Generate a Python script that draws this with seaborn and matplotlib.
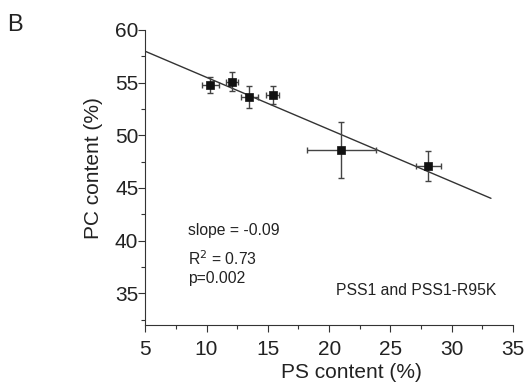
import seaborn as sns
import matplotlib.pyplot as plt
from matplotlib.ticker import MultipleLocator
import pandas as pd

# PS / PC content for PSS1 and PSS1-R95K cell lines
ps_content = [10.3, 12.1, 13.5, 15.4, 21.0, 28.1]
pc_content = [54.8, 55.1, 53.6, 53.8, 48.6, 47.1]
ps_err = [0.7, 0.5, 0.7, 0.55, 2.8, 1.0]
pc_err = [0.75, 0.9, 1.05, 0.85, 2.7, 1.45]

df = pd.DataFrame({"PS": ps_content, "PC": pc_content})

sns.set_style("ticks")
plt.rcParams['font.family'] = ['Liberation Sans', 'DejaVu Sans']
plt.rcParams['text.color'] = "#222222"
plt.rcParams['axes.labelcolor'] = "#222222"

fig = plt.figure(figsize=(5.3, 3.84), dpi=100)
ax = fig.add_axes([0.274, 0.154, 0.694, 0.768])

# regression line drawn across the axis range
ax.set_xlim(5, 33.2)
sns.regplot(data=df, x="PS", y="PC", scatter=False, ci=None, truncate=False,
            line_kws={"color": "#333333", "lw": 1.0}, ax=ax)

ax.errorbar(ps_content, pc_content, xerr=ps_err, yerr=pc_err, fmt="none",
            ecolor="#444444", elinewidth=1.0, capsize=2.5, capthick=1.0)
sns.scatterplot(data=df, x="PS", y="PC", marker="s", color="#111111",
                s=38, edgecolor="#111111", zorder=3, ax=ax)

ax.set_xlim(5, 35)
ax.set_ylim(32, 60)
ax.xaxis.set_major_locator(MultipleLocator(5))
ax.xaxis.set_minor_locator(MultipleLocator(2.5))
ax.yaxis.set_major_locator(MultipleLocator(5))
ax.yaxis.set_minor_locator(MultipleLocator(2.5))
ax.set_yticks([35, 40, 45, 50, 55, 60])
ax.tick_params(which="major", length=5, width=0.8, labelsize=15, color="#333333",
               labelcolor="#222222")
ax.tick_params(axis="x", which="major", pad=6)
ax.tick_params(axis="y", which="major", pad=0)
ax.tick_params(which="minor", length=3, width=0.8, color="#333333")
sns.despine(ax=ax)
for s in ["left", "bottom"]:
    ax.spines[s].set_linewidth(0.8)
    ax.spines[s].set_color("#333333")

ax.set_xlabel("PS content (%)", fontsize=15)
ax.set_ylabel("PC content (%)", fontsize=15)
ax.xaxis.set_label_coords(0.56, -0.13)
ax.yaxis.set_label_coords(-0.115, 0.53)

ax.text(8.5, 41.0, "slope = -0.09", fontsize=11.3, va="center")
ax.text(8.5, 38.3, "R$^2$ = 0.73", fontsize=11.3, va="center")
ax.text(8.5, 36.4, "p=0.002", fontsize=11.3, va="center")
ax.text(20.6, 35.3, "PSS1 and PSS1-R95K", fontsize=11.3, va="center")

fig.text(0.013, 0.935, "B", fontsize=17, va="center")

fig.savefig("out.png", dpi=100)
